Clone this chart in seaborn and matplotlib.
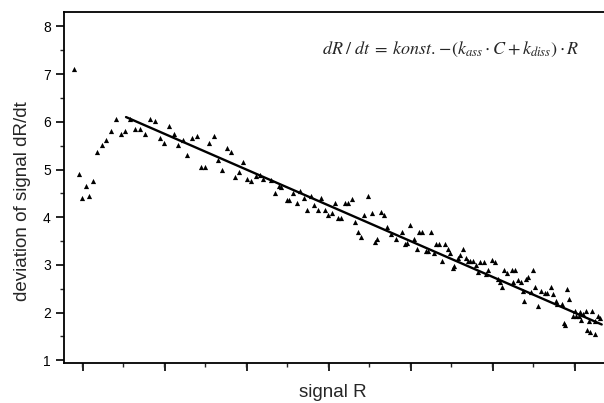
import numpy as np
import pandas as pd
import matplotlib
matplotlib.use("Agg")
import matplotlib.pyplot as plt
from matplotlib.ticker import MultipleLocator
import seaborn as sns

# signal R (arbitrary units) and measured dR/dt
signal_r = [
    74, 78.7, 81.7, 85.7, 89.3, 93.3, 97.3, 102, 106.3, 111.3,
    116, 121, 125.3, 130.3, 135, 140, 144.7, 149.7, 154.5, 159.5,
    164, 168.7, 173.7, 178.3, 182.7, 187.3, 191.7, 196.5, 200.5, 204.7,
    209, 213.7, 218.3, 222, 226.5, 231, 235.3, 239.3, 243.3, 247.3,
    250.7, 255.5, 259.5, 263.3, 270.7, 274.7, 278.7, 280.5, 286.5, 288.8,
    292.8, 296.5, 300, 304.2, 307.3, 310.8, 314.2, 318, 321, 324.8,
    328, 331.7, 334.7, 338.3, 340.7, 345, 348, 352, 355.3, 358.3,
    361.3, 364, 368, 371.7, 374.7, 377, 380.7, 384, 387, 391.3,
    396.3, 402, 404.7, 406.7, 410.3, 414, 417, 419, 422, 426,
    428.3, 430.7, 434, 436, 439, 442, 444.7, 447.5, 450, 453,
    454.3, 458, 460.3, 463, 465.7, 467.7, 470.3, 473, 476, 478.3,
    480.3, 483.7, 485.7, 488.3, 491.7, 495, 497.7, 499.7, 502.3, 504,
    506.7, 511.7, 513.3, 515.3, 518.3, 521, 522.7, 524.3, 526, 528.3,
    531.3, 533, 535, 537.5, 541.3, 544.7, 546.7, 550.7, 552.7, 556,
    557.3, 561.7, 564, 564.7, 566.7, 568.7, 572.7, 575.3, 576, 579.3,
    580, 581.3, 582.7, 586, 587.3, 588.7, 590, 592, 594.7, 595.3,
    598, 600,
]
dr_dt = [
    7.11, 4.91, 4.40, 4.66, 4.45, 4.76, 5.36, 5.51, 5.62, 5.81,
    6.06, 5.75, 5.81, 6.06, 5.86, 5.86, 5.75, 6.06, 6.01, 5.66,
    5.55, 5.91, 5.75, 5.51, 5.61, 5.31, 5.66, 5.71, 5.06, 5.06,
    5.56, 5.71, 5.20, 5.00, 5.46, 5.36, 4.85, 4.95, 5.16, 4.80,
    4.75, 4.87, 4.89, 4.80, 4.78, 4.50, 4.66, 4.64, 4.36, 4.36,
    4.50, 4.29, 4.54, 4.40, 4.15, 4.45, 4.25, 4.15, 4.40, 4.15,
    4.05, 4.09, 4.29, 3.99, 3.99, 4.29, 4.29, 4.39, 3.89, 3.69,
    3.59, 4.05, 4.45, 4.09, 3.49, 3.54, 4.10, 4.04, 3.80, 3.64,
    3.54, 3.69, 3.44, 3.45, 3.84, 3.54, 3.34, 3.69, 3.69, 3.29,
    3.29, 3.69, 3.24, 3.44, 3.44, 3.09, 3.44, 3.34, 3.24, 2.93,
    2.98, 3.14, 3.20, 3.34, 3.15, 3.09, 3.09, 3.09, 2.99, 2.85,
    3.05, 3.05, 2.80, 2.89, 3.10, 3.05, 2.70, 2.65, 2.54, 2.89,
    2.84, 2.89, 2.65, 2.89, 2.68, 2.65, 2.45, 2.24, 2.70, 2.75,
    2.44, 2.89, 2.54, 2.14, 2.45, 2.40, 2.42, 2.54, 2.39, 2.24,
    2.17, 2.19, 1.78, 1.74, 2.49, 2.29, 1.93, 2.03, 1.93, 1.93,
    2.01, 1.84, 1.97, 2.03, 1.63, 1.83, 1.60, 2.03, 1.83, 1.55,
    1.93, 1.88,
]

# linear fit shown over the descending part
fit_r = [126, 601.7]
fit_dr = [6.10, 1.75]

points = pd.DataFrame({"R": signal_r, "dRdt": dr_dt})
fit = pd.DataFrame({"R": fit_r, "dRdt": fit_dr})

sns.set_style("ticks")
plt.rcParams["font.family"] = ["Liberation Sans", "DejaVu Sans"]
plt.rcParams["mathtext.fontset"] = "stix"

fig = plt.figure(figsize=(6.04, 4.03), dpi=100)
ax = fig.add_axes([0.106, 0.099, 0.894, 0.872])

sns.scatterplot(data=points, x="R", y="dRdt", marker="^", color="black",
                s=14, linewidth=0, ax=ax)
sns.lineplot(data=fit, x="R", y="dRdt", color="black", linewidth=1.7, ax=ax)

ax.set_xlim(64, 604)
ax.set_ylim(0.94, 8.31)
ax.set_xticks(np.arange(83, 600, 82))
ax.xaxis.set_minor_locator(MultipleLocator(41))
ax.set_xticklabels([])
ax.yaxis.set_major_locator(MultipleLocator(1))
ax.yaxis.set_minor_locator(MultipleLocator(0.5))
ax.tick_params(axis="both", which="major", direction="out", length=6, width=1.2,
               labelsize=10, colors="black")
ax.tick_params(axis="both", which="minor", direction="out", length=3, width=1)
ax.set_xlabel("signal R", fontsize=13.5)
ax.set_ylabel("deviation of signal dR/dt", fontsize=13.5)
ax.yaxis.set_label_coords(-0.062, 0.46)
ax.xaxis.set_label_coords(0.498, -0.06)

for side in ["left", "bottom", "top"]:
    ax.spines[side].set_visible(True)
    ax.spines[side].set_color("black")
    ax.spines[side].set_linewidth(1.3)
ax.spines["right"].set_visible(False)

ax.text(0.955, 0.892,
        r"$dR\;/\;dt\;=\;konst.\!-\!(k_{ass}\cdot C + k_{diss})\cdot R$",
        transform=ax.transAxes, ha="right", va="center", fontsize=13)

fig.savefig("out.png", dpi=100)
